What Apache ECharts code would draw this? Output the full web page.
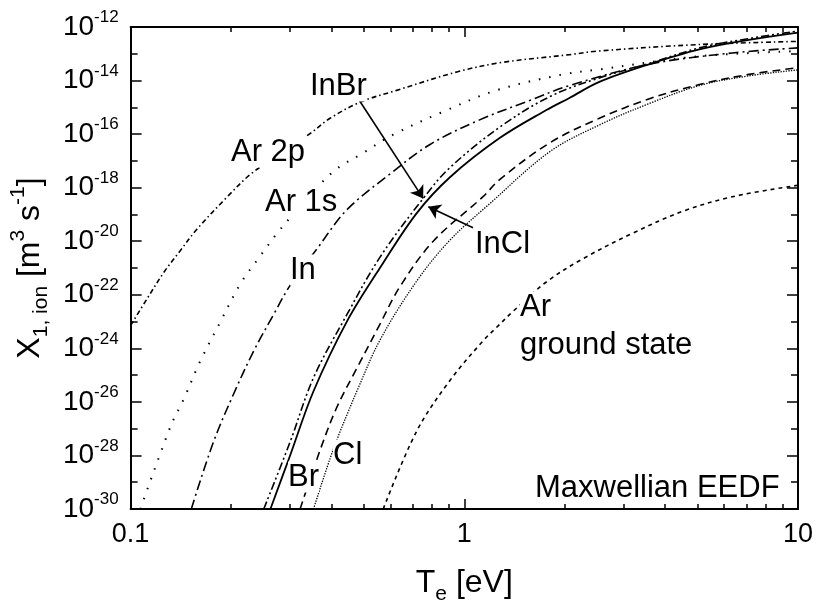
<!DOCTYPE html>
<html>
<head>
<meta charset="utf-8">
<script src="https://cdn.jsdelivr.net/npm/echarts@6.0.0/dist/echarts.min.js"></script>
<style>
  html, body { margin: 0; background: #fff; }
  #myChart { width: 816px; height: 610px; }
</style>
</head>
<body>
<div id="myChart"></div>
<script>
  // electron temperature T_e [eV] and rate X_1,ion [m^3 s^-1]
  var ar2pT = [0.1, 0.112, 0.126, 0.141, 0.158, 0.195, 0.229, 0.28, 0.347, 0.396, 0.49, 0.627, 0.95, 1.29, 2.07, 2.51, 5.0, 10];
  var ar2pX = [7.1e-24, 7.1e-23, 7.1e-22, 4.5e-21, 2.8e-20, 4.6e-19, 3.2e-18, 1.8e-17, 1.1e-16, 3.9e-16, 1.6e-15, 4.3e-15, 2.1e-14, 4.7e-14, 9.3e-14, 1.26e-13, 2.2e-13, 2.9e-13];

  var ar1sT = [0.107, 0.132, 0.144, 0.162, 0.186, 0.213, 0.245, 0.275, 0.309, 0.405, 0.498, 0.612, 0.865, 1.247, 1.977, 2.54, 5.06, 10];
  var ar1sX = [1.0e-30, 1.3e-27, 1.2e-26, 3.5e-25, 1.0e-23, 2.5e-22, 2.9e-21, 2.0e-20, 1.1e-19, 4.0e-18, 2.0e-17, 9.5e-17, 6.9e-16, 4.3e-15, 1.7e-14, 2.6e-14, 8.1e-14, 1.26e-13];

  var inT = [0.152, 0.177, 0.204, 0.234, 0.268, 0.301, 0.361, 0.445, 0.598, 0.789, 1.112, 1.57, 2.065, 3.59, 6.35, 10];
  var inX = [1.0e-30, 3.1e-28, 2.1e-26, 8.1e-25, 1.8e-23, 2.3e-22, 5.0e-21, 1.5e-19, 3.2e-18, 4.1e-17, 3.4e-16, 1.8e-15, 6.5e-15, 4.1e-14, 1.07e-13, 1.66e-13];

  var inBrT = [0.2506, 0.3006, 0.3532, 0.4446, 0.5585, 0.7534, 0.9057, 1.276, 1.803, 2.54, 3.59, 5.06, 7.13, 10];
  var inBrX = [1.0e-30, 3.2e-28, 7.9e-26, 1.8e-23, 2.5e-21, 4.0e-19, 5.6e-18, 1.8e-16, 2.5e-15, 1.26e-14, 4.4e-14, 1.66e-13, 3.7e-13, 7.1e-13];

  var inClT = [0.2624, 0.3006, 0.3532, 0.4446, 0.5585, 0.7194, 0.9057, 1.276, 1.762, 2.065, 2.54, 3.59, 5.06, 7.13, 10];
  var inClX = [1.0e-30, 1.0e-28, 2.5e-26, 1.0e-23, 1.0e-21, 1.1e-19, 2.45e-18, 7.1e-17, 7.9e-16, 2.24e-15, 8.9e-15, 4.1e-14, 1.45e-13, 3.3e-13, 6.2e-13];

  var brT = [0.3221, 0.3698, 0.415, 0.4764, 0.5585, 0.6412, 0.8072, 1.138, 1.276, 1.803, 2.54, 3.59, 5.06, 7.13, 10];
  var brX = [1.0e-30, 1.6e-28, 6.3e-27, 1.8e-25, 7.9e-24, 2.0e-22, 1.0e-20, 4.6e-19, 2.0e-18, 4.7e-17, 3.9e-16, 2.1e-15, 7.1e-15, 1.7e-14, 3.0e-14];

  var clT = [0.3532, 0.3963, 0.4246, 0.4446, 0.4764, 0.5585, 0.7194, 0.9057, 1.191, 1.803, 2.54, 3.59, 5.06, 7.13, 10];
  var clX = [1.0e-30, 7.9e-29, 7.9e-28, 3.2e-27, 2.5e-26, 2.0e-24, 3.2e-22, 1.1e-20, 2.5e-19, 2.2e-17, 2.2e-16, 1.4e-15, 6.5e-15, 1.5e-14, 2.5e-14];

  var arGsT = [0.5715, 0.7194, 0.9057, 1.138, 1.247, 1.40, 1.762, 2.265, 3.199, 4.508, 6.368, 10];
  var arGsX = [1.0e-30, 7.9e-28, 6.3e-26, 1.9e-24, 5.9e-24, 2.4e-23, 3.0e-22, 2.2e-21, 2.0e-20, 1.3e-19, 4.6e-19, 1.23e-18];

  // axis range (y in decades) and tick step
  var xMin = 0.1, xMax = 10;
  var yMinExp = -30, yMaxExp = -12, yStep = 2;

  var font = "'Liberation Sans', Arial, sans-serif";

  function toData(ts, xs) {
    return ts.map(function (t, i) { return [t, Math.log10(xs[i])]; });
  }

  function curve(name, ts, xs, dash, width) {
    return {
      name: name,
      type: 'line',
      data: toData(ts, xs),
      symbol: 'none',
      smooth: 0.35,
      lineStyle: { color: '#000', width: width || 1.6, type: dash },
      silent: true
    };
  }

  var textLabels = [
    { text: 'Ar 2p', x: 231, y: 152 },
    { text: 'Ar 1s', x: 265, y: 202 },
    { text: 'In', x: 290, y: 270 },
    { text: 'InBr', x: 310, y: 86 },
    { text: 'InCl', x: 475, y: 244 },
    { text: 'Br', x: 288, y: 477 },
    { text: 'Cl', x: 333, y: 455 },
    { text: 'Ar', x: 520, y: 307 },
    { text: 'ground state', x: 520, y: 345 },
    { text: 'Maxwellian EEDF', x: 535, y: 488 }
  ];

  function xAxisDef(pos, show) {
    return {
      type: 'log',
      logBase: 10,
      min: xMin,
      max: xMax,
      position: pos,
      axisLine: { onZero: false, lineStyle: { color: '#000', width: 2 } },
      axisTick: { inside: true, length: 10, lineStyle: { color: '#000', width: 1.5 } },
      minorTick: { show: true, splitNumber: 9, length: 5, lineStyle: { color: '#000', width: 1.5 } },
      splitLine: { show: false },
      axisLabel: {
        show: show,
        color: '#000',
        fontSize: 27,
        fontFamily: font,
        margin: 12,
        formatter: function (v) { return String(+v.toPrecision(3)); }
      }
    };
  }

  function yAxisDef(pos, show) {
    return {
      type: 'value',
      min: yMinExp,
      max: yMaxExp,
      interval: yStep,
      position: pos,
      axisLine: { onZero: false, lineStyle: { color: '#000', width: 2 } },
      axisTick: { inside: true, length: 11, lineStyle: { color: '#000', width: 1.5 } },
      minorTick: { show: true, splitNumber: 2, length: 7, lineStyle: { color: '#000', width: 1.5 } },
      splitLine: { show: false },
      axisLabel: {
        show: show,
        margin: 12,
        formatter: function (v) { return '{b|10}{s|' + v + '}'; },
        rich: {
          b: { fontSize: 28, fontFamily: font, color: '#000', lineHeight: 36 },
          s: { fontSize: 17, fontFamily: font, color: '#000', lineHeight: 17, verticalAlign: 'top' }
        }
      }
    };
  }

  var xBottom = xAxisDef('bottom', true);
  xBottom.name = '{a|T}{s|e}{a| [eV]}';
  xBottom.nameLocation = 'middle';
  xBottom.nameGap = 52;
  xBottom.nameTextStyle = {
    rich: {
      a: { fontSize: 32, fontFamily: font, color: '#000', lineHeight: 44 },
      s: { fontSize: 21, fontFamily: font, color: '#000', lineHeight: 16, verticalAlign: 'bottom' }
    }
  };

  var yLeft = yAxisDef('left', true);
  yLeft.name = '{a|X}{s|1, ion}{a| [m}{p|3}{a| s}{p|-1}{a|]}';
  yLeft.nameLocation = 'middle';
  yLeft.nameGap = 75;
  yLeft.nameTextStyle = {
    rich: {
      a: { fontSize: 32, fontFamily: font, color: '#000', lineHeight: 44 },
      s: { fontSize: 21, fontFamily: font, color: '#000', lineHeight: 16, verticalAlign: 'bottom' },
      p: { fontSize: 21, fontFamily: font, color: '#000', lineHeight: 16, verticalAlign: 'top' }
    }
  };

  var inClSeries = curve('InCl', inClT, inClX, 'solid', 1.8);
  inClSeries.markLine = {
    silent: true,
    animation: false,
    symbol: ['none', 'arrow'],
    symbolSize: 12,
    label: { show: false },
    lineStyle: { color: '#000', width: 1.6, type: 'solid' },
    data: [
      [{ coord: [0.481, -14.68] }, { coord: [0.753, -18.40] }],
      [{ coord: [1.062, -19.50] }, { coord: [0.780, -18.71] }]
    ]
  };

  var myChart = echarts.init(document.getElementById('myChart'));
  var option = {
    backgroundColor: '#fff',
    animation: false,
    grid: { left: 130, right: 17, top: 27, bottom: 92, containLabel: false },
    xAxis: [xBottom, xAxisDef('top', false)],
    yAxis: [yLeft, yAxisDef('right', false)],
    series: [
      curve('Ar 2p', ar2pT, ar2pX, [5, 3, 1.5, 3]),
      curve('Ar 1s', ar1sT, ar1sX, [1.5, 9], 2),
      curve('In', inT, inX, [10, 4, 2, 4]),
      curve('InBr', inBrT, inBrX, [8, 3, 2, 3, 2, 3]),
      inClSeries,
      curve('Br', brT, brX, [8, 5]),
      curve('Cl', clT, clX, [1.3, 1.3], 1.3),
      curve('Ar ground state', arGsT, arGsX, [4, 4])
    ],
    graphic: textLabels.map(function (l) {
      return {
        type: 'text',
        x: l.x,
        y: l.y,
        z: 100,
        style: {
          text: l.text,
          fontSize: 31,
          fontFamily: font,
          fill: '#000',
          align: 'left',
          verticalAlign: 'middle',
          backgroundColor: '#fff'
        }
      };
    })
  };
  myChart.setOption(option);
</script>
</body>
</html>
